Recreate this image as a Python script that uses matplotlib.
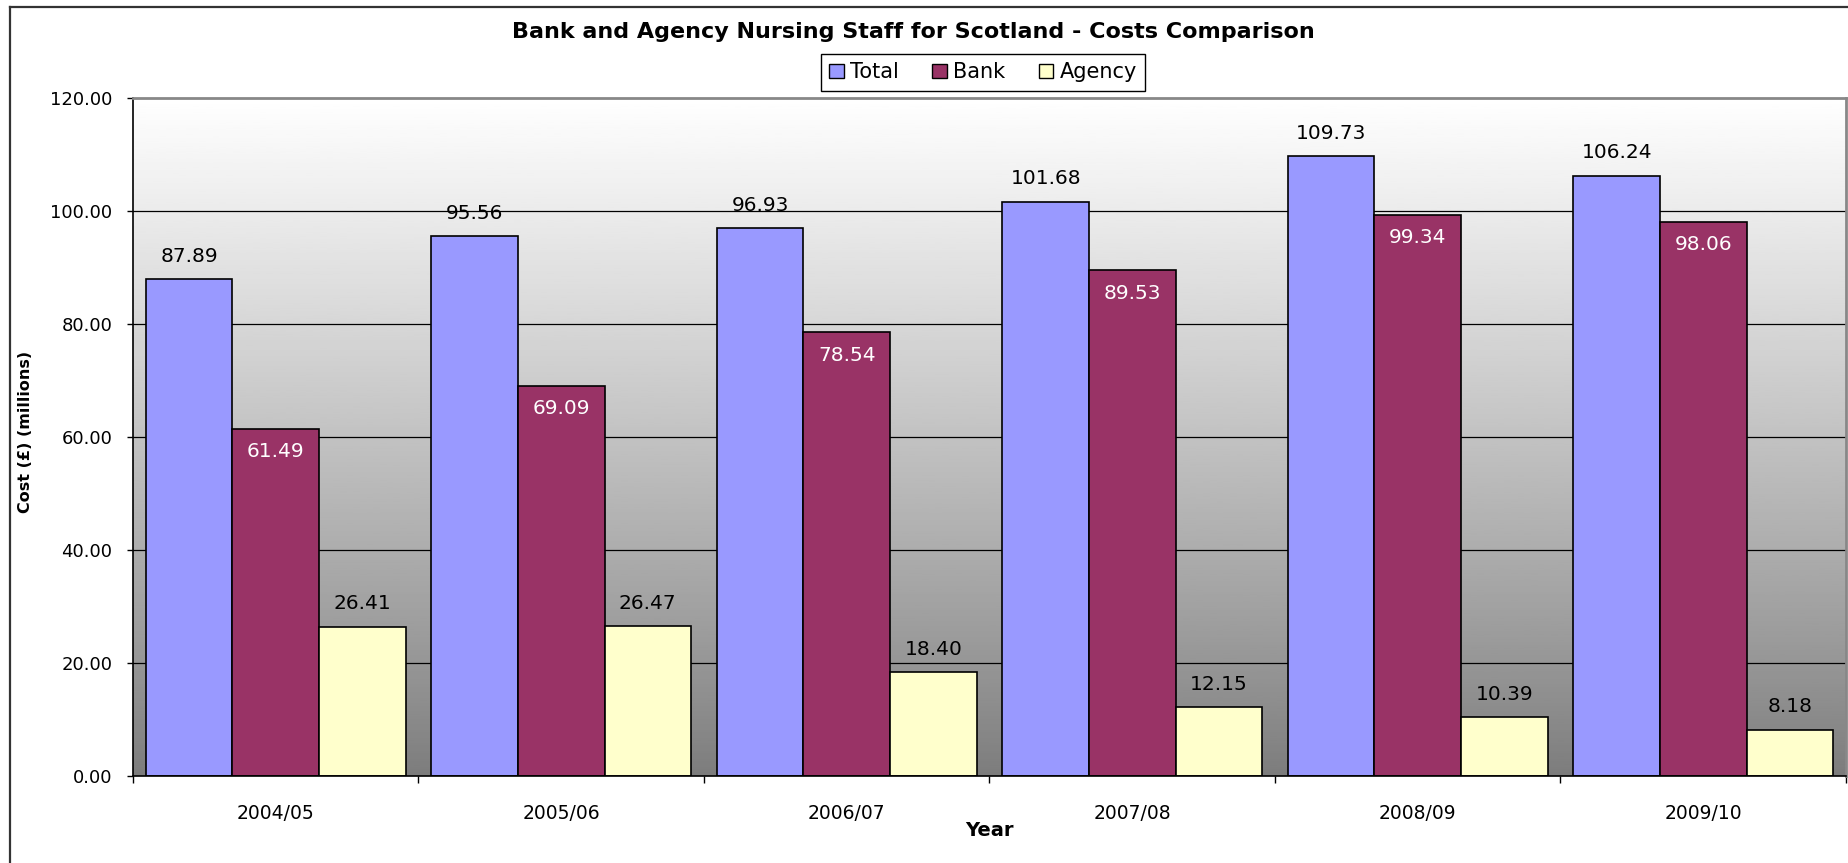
import matplotlib.pyplot as plt
import numpy as np
from matplotlib.lines import Line2D
from matplotlib.patches import Patch

# ── Data ─────────────────────────────────────────────────────────────────────
years = ["2004/05", "2005/06", "2006/07", "2007/08", "2008/09", "2009/10"]
total = [87.89, 95.56, 96.93, 101.68, 109.73, 106.24]
bank = [61.49, 69.09, 78.54, 89.53, 99.34, 98.06]
agency = [26.41, 26.47, 18.40, 12.15, 10.39, 8.18]

series = [
    ("Total", total, "#9999FF", "black", 1),
    ("Bank", bank, "#993366", "white", -1),
    ("Agency", agency, "#FFFFCC", "black", 1),
]

# ── Figure ───────────────────────────────────────────────────────────────────
W, H = 1849, 863
fig = plt.figure(figsize=(W / 100, H / 100), dpi=100)
ax = fig.add_axes([133 / W, 1 - 776 / H, (1846 - 133) / W, (776 - 98) / H])

y_max = 120
ax.set_xlim(-0.5, len(years) - 0.5)
ax.set_ylim(0, y_max)

# grey vertical gradient behind the bars (white at the top, mid grey at 0)
grad = np.linspace(1.0, 0.0, 256).reshape(-1, 1) ** 0.9
ax.imshow(grad, cmap="gray", vmin=-0.95, vmax=1.0, aspect="auto",
          extent=(-0.5, len(years) - 0.5, 0, y_max), zorder=0)

for v in range(20, y_max, 20):
    ax.axhline(v, color="black", lw=0.9, zorder=1)

bw = 0.303
x = np.arange(len(years))
for i, (name, vals, colour, txt_colour, side) in enumerate(series):
    xs = x + (i - 1) * bw
    ax.bar(xs, vals, width=bw, color=colour, edgecolor="black", lw=1.2,
           zorder=2, label=name)
    for xi, v in zip(xs, vals):
        ax.annotate(f"{v:.2f}", (xi, v), xytext=(0, 16.5 * side),
                    textcoords="offset points", ha="center", va="center",
                    fontsize=14.5, color=txt_colour, zorder=3)

# ── Axes styling ─────────────────────────────────────────────────────────────
ax.set_yticks(range(0, y_max + 1, 20))
ax.set_yticklabels([f"{v:.2f}" for v in range(0, y_max + 1, 20)])
ax.tick_params(axis="y", direction="out", length=4, width=1, pad=11,
               labelsize=13)

ax.set_xticks(np.arange(-0.5, len(years)), minor=False)
ax.set_xticklabels([])
ax.tick_params(axis="x", which="major", direction="out", length=5, width=1)
ax.set_xticks(x, minor=True)
ax.set_xticklabels(years, minor=True)
ax.tick_params(axis="x", which="minor", length=0, pad=20, labelsize=13.5)

ax.spines["left"].set_color("black")
ax.spines["bottom"].set_color("black")
ax.spines["left"].set_linewidth(1.2)
ax.spines["bottom"].set_linewidth(1.2)
for s in ["top", "right"]:
    ax.spines[s].set_color("#888888")
    ax.spines[s].set_linewidth(2)

# ── Titles, labels, legend ───────────────────────────────────────────────────
fig.text(913 / W, 1 - 32 / H,
         "Bank and Agency Nursing Staff for Scotland - Costs Comparison",
         ha="center", va="center", fontsize=16, fontweight="bold")
fig.text(989 / W, 1 - 830 / H, "Year", ha="center", va="center",
         fontsize=14, fontweight="bold")
fig.text(26 / W, 1 - 432 / H, "Cost (£) (millions)", ha="center",
         va="center", rotation=90, fontsize=11.5, fontweight="bold")

handles = [Patch(facecolor=c, edgecolor="black", lw=1) for _, _, c, _, _ in series]
leg = fig.legend(handles, [s[0] for s in series], loc="center",
                 bbox_to_anchor=(983 / W, 1 - 72.5 / H), ncol=3,
                 fontsize=15, frameon=True, fancybox=False, framealpha=1,
                 edgecolor="black", handlelength=0.7, handleheight=0.7,
                 handletextpad=0.3, columnspacing=1.6, borderpad=0.4)
leg.get_frame().set_linewidth(1)

# outer chart frame
fig.add_artist(Line2D([10 / W, 10 / W], [0, 1 - 7 / H], color="#333333",
                      lw=1.6, transform=fig.transFigure))
fig.add_artist(Line2D([10 / W, 1], [1 - 7 / H, 1 - 7 / H], color="#333333",
                      lw=1.6, transform=fig.transFigure))

fig.savefig("out.png", dpi=100)
